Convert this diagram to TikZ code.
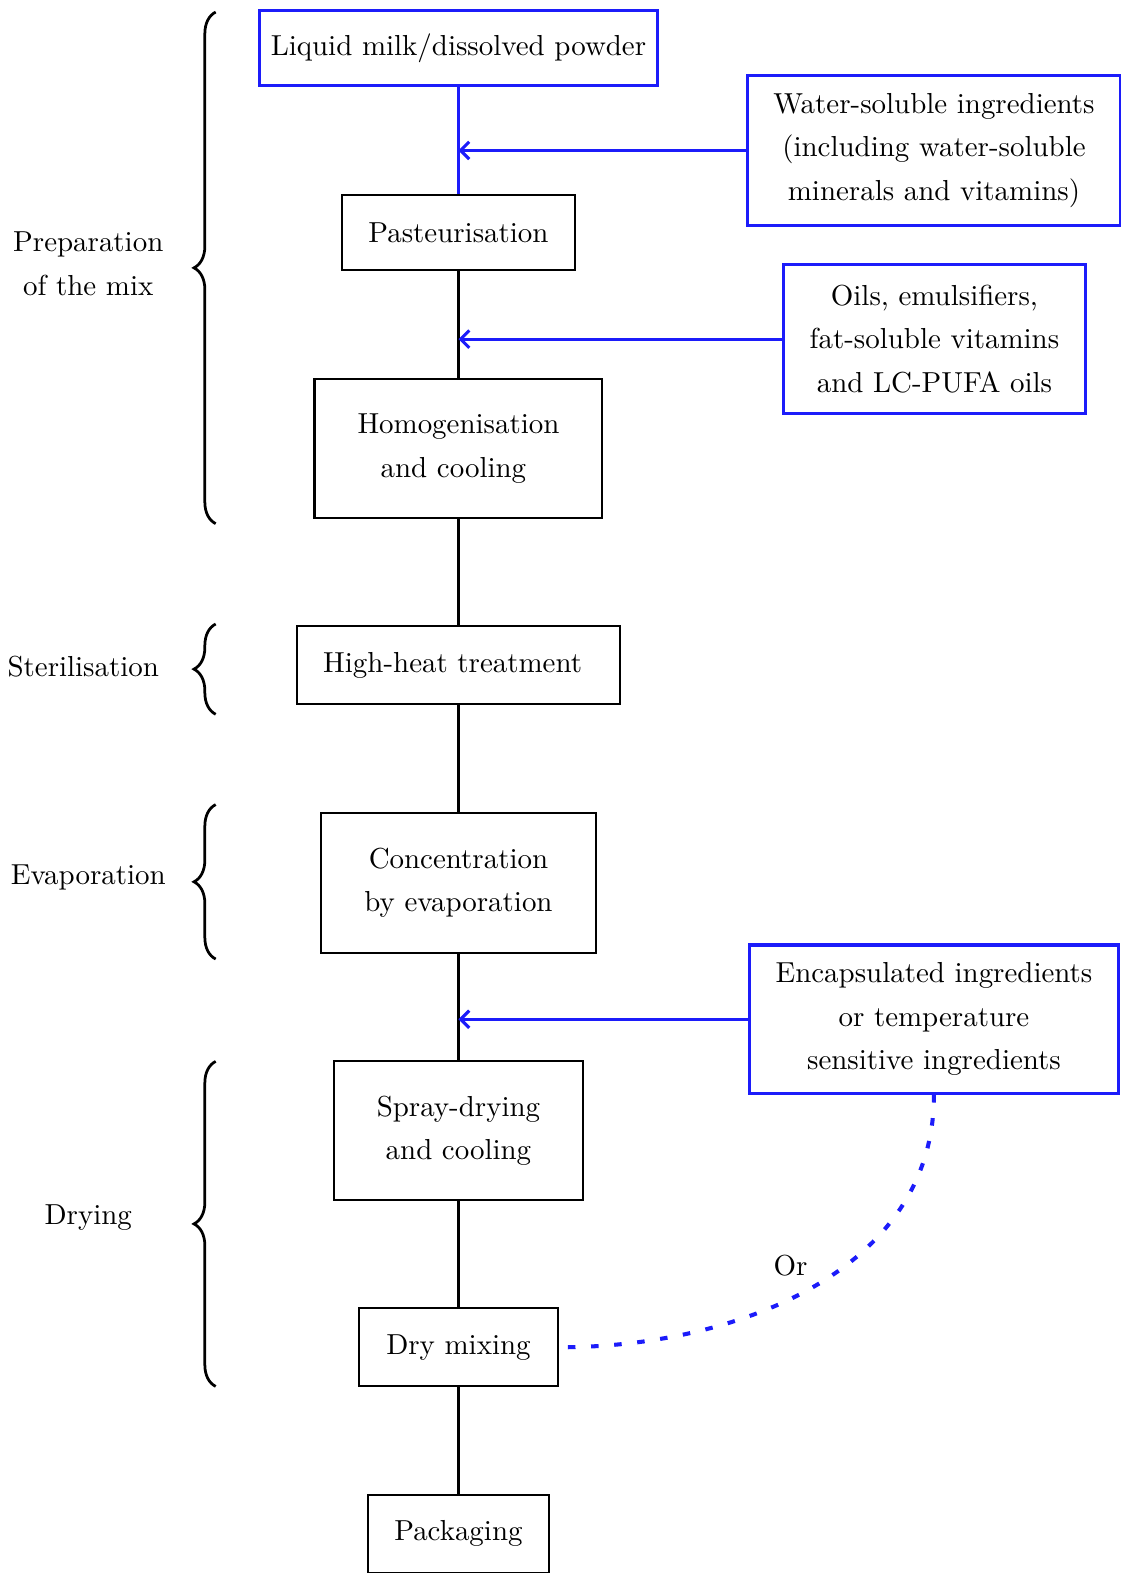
\documentclass[tikz,border=0pt]{standalone}
\usetikzlibrary{decorations.pathreplacing,arrows.meta}
\definecolor{myblue}{RGB}{28,28,250}
\newlength\pxu
\setlength\pxu{0.3467pt}
\begin{document}
\begin{tikzpicture}[x=\pxu,y=-\pxu,
  every node/.style={font=\fontsize{10pt}{15pt}\selectfont, align=center, inner sep=0pt},
  bbox/.style={draw=black, line width=0.7pt},
  ubox/.style={draw=myblue, line width=1.05pt},
  bline/.style={draw=black, line width=0.8pt},
  uline/.style={draw=myblue, line width=1.05pt},
  uarrow/.style={draw=myblue, line width=1.05pt, -{Straight Barb[length=3pt,width=6pt]}},
  bracestyle/.style={decorate, decoration={brace, amplitude=7.5pt}, line width=0.95pt},
]
\useasboundingbox (0,0) rectangle (1117,1568);

% main column
\node[ubox, minimum width=396\pxu, minimum height=75\pxu] (milk) at (457,48) {Liquid milk/dissolved powder};
\node[bbox, minimum width=233\pxu, minimum height=75\pxu] (past) at (457,232) {Pasteurisation};
\node[bbox, minimum width=287\pxu, minimum height=139\pxu] (homo) at (457,447) {Homogenisation\\and cooling\rule{3.5pt}{0pt}};
\node[bbox, minimum width=322\pxu, minimum height=78\pxu] (heat) at (457,663) {High-heat treatment\rule{4pt}{0pt}};
\node[bbox, minimum width=274\pxu, minimum height=139\pxu] (conc) at (457,880) {Concentration\\by evaporation};
\node[bbox, minimum width=248\pxu, minimum height=139\pxu] (spray) at (457,1127) {Spray-drying\\and cooling};
\node[bbox, minimum width=198\pxu, minimum height=78\pxu] (dry) at (457,1343) {Dry mixing};
\node[bbox, minimum width=180\pxu, minimum height=78\pxu] (pack) at (457,1529) {Packaging};

% side inputs
\node[ubox, minimum width=372\pxu, minimum height=149\pxu] (water) at (931,150) {Water-soluble ingredients\\(including water-soluble\\minerals and vitamins)};
\node[ubox, minimum width=301\pxu, minimum height=148\pxu] (oils) at (931.5,338) {Oils, emulsifiers,\\fat-soluble vitamins\\and LC-PUFA oils};
\node[ubox, minimum width=368\pxu, minimum height=148\pxu] (enc) at (931,1016) {Encapsulated ingredients\\or temperature\\sensitive ingredients};

% vertical connectors
\draw[uline] (milk.south) -- (past.north);
\draw[bline] (past.south) -- (homo.north);
\draw[bline] (homo.south) -- (heat.north);
\draw[bline] (heat.south) -- (conc.north);
\draw[bline] (conc.south) -- (spray.north);
\draw[bline] (spray.south) -- (dry.north);
\draw[bline] (dry.south) -- (pack.north);

% input arrows
\draw[uarrow] (water.west) -- (milk.south |- water.west);
\draw[uarrow] (oils.west) -- (past.south |- oils.west);
\draw[uarrow] (enc.west) -- (conc.south |- enc.west);

% dashed alternative
\draw[draw=myblue, line width=1.4pt, dash pattern=on 2.6pt off 5.4pt]
  (enc.south) to[out=-90, in=0, looseness=1.0] (dry.east);
\node (or) at (788,1262) {Or};

% braces and phase labels
\draw[bracestyle] (215,522) -- (215,12);
\node (lprep) at (88,263) {Preparation\\of the mix};
\draw[bracestyle] (215,712) -- (215,622);
\node (lster) at (83,664) {Sterilisation};
\draw[bracestyle] (215,956) -- (215,802);
\node (levap) at (88,875) {Evaporation};
\draw[bracestyle] (215,1382) -- (215,1058);
\node (ldry) at (88,1214) {Drying};
\end{tikzpicture}
\end{document}
